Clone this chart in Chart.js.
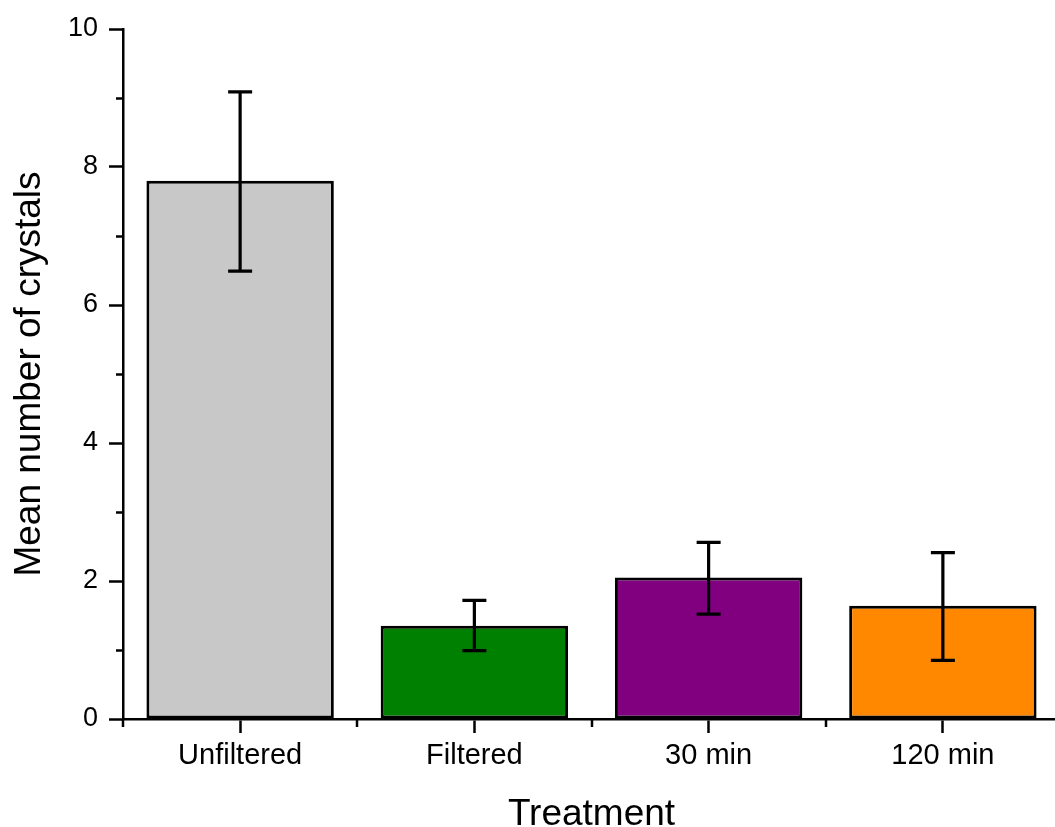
<!DOCTYPE html>
<html lang="en">
<head>
<meta charset="UTF-8">
<title>Mean number of crystals</title>
<script src="https://cdn.jsdelivr.net/npm/chart.js"></script>
<style>
    body {
        margin: 0;
        padding: 0;
        background: #fff;
        overflow: hidden;
    }
    .wrap {
        width: 1055px;
        height: 827px;
        overflow: hidden;
    }
</style>
</head>
<body>
<div class="wrap">
    <canvas id="chart" width="1062" height="827"></canvas>
</div>
<script>
// data
const categories = ['Unfiltered', 'Filtered', '30 min', '120 min'];
const means = [7.8, 1.35, 2.05, 1.64];
const errLow = [6.49, 0.99, 1.52, 0.85];
const errHigh = [9.09, 1.72, 2.56, 2.41];
const yMin = 0;
const yMax = 10;
const yStep = 2;

const barColors = ['#c8c8c8', '#008000', '#800080', '#ff8800'];
const fontFamily = '"Liberation Sans", Arial, sans-serif';

// error bars + minor ticks, drawn through the scales
const extras = {
    id: 'extras',
    afterDatasetsDraw(chart) {
        const { ctx, chartArea, scales: { x, y } } = chart;
        ctx.save();
        ctx.strokeStyle = '#000';
        ctx.lineCap = 'butt';

        ctx.lineWidth = 3.2;
        categories.forEach((c, i) => {
            const px = x.getPixelForValue(i);
            const top = y.getPixelForValue(errHigh[i]);
            const bot = y.getPixelForValue(errLow[i]);
            ctx.beginPath();
            ctx.moveTo(px, top);
            ctx.lineTo(px, bot);
            ctx.moveTo(px - 12, top);
            ctx.lineTo(px + 12, top);
            ctx.moveTo(px - 12, bot);
            ctx.lineTo(px + 12, bot);
            ctx.stroke();
        });

        ctx.lineWidth = 2.5;
        ctx.beginPath();
        for (let k = 0; k < y.ticks.length - 1; k++) {
            const v = (y.ticks[k].value + y.ticks[k + 1].value) / 2;
            const py = Math.round(y.getPixelForValue(v)) + 0.5;
            ctx.moveTo(chartArea.left - 7, py);
            ctx.lineTo(chartArea.left, py);
        }
        for (let i = 0; i <= categories.length; i++) {
            const px = Math.round(x.getPixelForValue(i - 0.5));
            ctx.moveTo(px, chartArea.bottom);
            ctx.lineTo(px, chartArea.bottom + 8);
        }
        ctx.stroke();
        ctx.restore();
    }
};

const chart = new Chart(document.getElementById('chart'), {
    type: 'bar',
    data: {
        labels: categories,
        datasets: [{
            data: means,
            backgroundColor: barColors,
            borderColor: '#000',
            borderWidth: 3,
            borderSkipped: false,
            barPercentage: 0.8,
            categoryPercentage: 1.0
        }]
    },
    options: {
        responsive: false,
        animation: false,
        devicePixelRatio: 1,
        layout: {
            padding: { left: 0, top: 29, right: 2, bottom: 0 }
        },
        plugins: {
            legend: { display: false },
            tooltip: { enabled: false }
        },
        scales: {
            x: {
                offset: true,
                afterFit: (scale) => { scale.height = 108; },
                grid: {
                    offset: false,
                    drawOnChartArea: false,
                    tickLength: 14,
                    tickColor: '#000',
                    tickWidth: 2.5
                },
                border: { color: '#000', width: 2.5 },
                ticks: {
                    color: '#000',
                    padding: 6,
                    font: { family: fontFamily, size: 29 }
                },
                title: {
                    display: true,
                    text: 'Treatment',
                    color: '#000',
                    padding: 0,
                    font: { family: fontFamily, size: 37, lineHeight: 0.65 }
                }
            },
            y: {
                min: yMin,
                max: yMax,
                afterFit: (scale) => { scale.width = 123; },
                grid: {
                    drawOnChartArea: false,
                    tickLength: 14,
                    tickColor: '#000',
                    tickWidth: 2.5
                },
                border: { color: '#000', width: 2.5 },
                ticks: {
                    stepSize: yStep,
                    color: '#000',
                    padding: 11,
                    font: { family: fontFamily, size: 27 }
                },
                title: {
                    display: true,
                    text: 'Mean number of crystals',
                    color: '#000',
                    padding: { top: 15, bottom: 0 },
                    font: { family: fontFamily, size: 37, lineHeight: 0.8 }
                }
            }
        }
    },
    plugins: [extras]
});
</script>
</body>
</html>
